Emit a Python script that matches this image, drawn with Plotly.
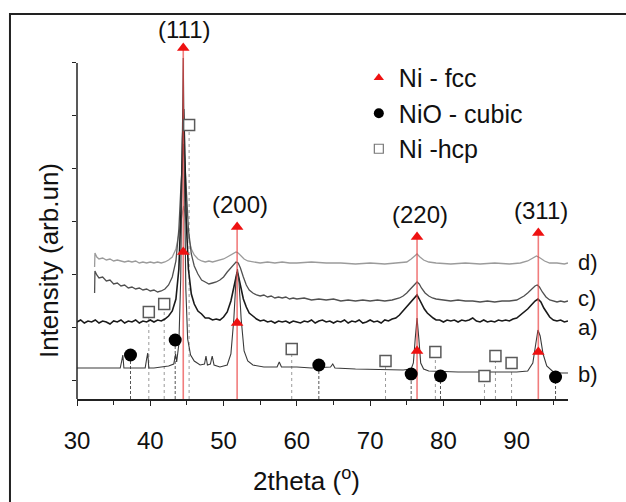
import plotly.graph_objects as go

# ---------------- data (intensity in arbitrary units) ----------------
b_x = [30.0, 31.0, 32.0, 33.0, 34.0, 35.0, 35.9, 36.1, 36.25, 36.4, 37.0, 38.0, 39.3, 39.5, 39.65, 39.8,
       40.5, 41.5, 42.5, 43.2, 43.45, 43.6, 43.9, 44.15, 44.35, 44.5, 44.65, 44.85, 45.1, 45.5, 46.0,
       46.8, 47.4, 47.6, 47.8, 48.2, 48.45, 48.7, 49.5, 50.5, 51.0, 51.4, 51.7, 51.9, 52.1, 52.4, 52.8,
       53.3, 54.0, 55.5, 57.3, 57.6, 57.9, 60.0, 62.0, 64.6, 64.9, 65.2, 68.0, 72.0, 74.5, 75.6, 75.9,
       76.15, 76.4, 76.65, 76.9, 77.3, 78.0, 82.0, 86.0, 90.0, 91.5, 92.2, 92.6, 92.9, 93.2, 93.6, 94.1,
       95.0, 96.0, 97.0]
b_y = [31, 31, 31.5, 31, 31, 31, 31, 38, 44, 31, 31, 31, 31, 40, 46, 31,
       31, 32, 33, 35, 45, 37, 55, 120, 230, 341, 230, 110, 60, 44, 38,
       34, 35, 43, 34, 35, 43, 34, 32, 34, 45, 80, 120, 130, 118, 80, 48,
       38, 34, 32, 32, 37, 32, 32, 31, 32, 35, 31, 30, 29, 29, 30, 36,
       60, 81, 60, 36, 30, 28, 27, 27, 27, 28, 36, 55, 69, 63, 45, 33,
       27, 26, 26]

a_x = [30.0, 30.5, 31.0, 31.5, 32.0, 32.5, 33.0, 33.5, 34.0, 34.5, 35.0, 35.5, 36.0, 36.5, 37.0, 37.5,
       38.0, 38.5, 39.0, 39.5, 40.0, 40.5, 41.0, 41.5, 42.0, 42.5, 43.0, 43.5, 43.9, 44.2, 44.4, 44.55,
       44.7, 44.9, 45.2, 45.6, 46.0, 46.5, 47.0, 47.5, 48.0, 48.5, 49.0, 49.5, 50.0, 50.5, 51.0, 51.4,
       51.7, 51.85, 52.0, 52.3, 52.7, 53.1, 53.5, 54.0, 54.5, 55.0, 55.5, 56.0, 56.5, 57.0, 57.5, 58.0,
       58.5, 59.0, 59.5, 60.0, 60.5, 61.0, 61.5, 62.0, 62.5, 63.0, 63.5, 64.0, 64.5, 65.0, 65.5, 66.0,
       66.5, 67.0, 67.5, 68.0, 68.5, 69.0, 69.5, 70.0, 70.5, 71.0, 71.5, 72.0, 72.5, 73.0, 73.5, 74.0,
       74.5, 75.0, 75.5, 76.0, 76.4, 76.7, 77.0, 77.4, 77.8, 78.2, 78.6, 79.0, 79.5, 80.0, 80.5, 81.0,
       81.5, 82.0, 82.5, 83.0, 83.5, 84.0, 84.5, 85.0, 85.5, 86.0, 86.5, 87.0, 87.5, 88.0, 88.5, 89.0,
       89.5, 90.0, 90.5, 91.0, 91.5, 92.0, 92.5, 92.9, 93.3, 93.7, 94.1, 94.5, 95.0, 95.5, 96.0, 96.5,
       97.0]
a_y = [77, 79, 76, 78, 77, 79, 76, 78, 77, 75, 78, 77, 79, 76, 78, 77,
       79, 76, 78, 77, 79, 77, 79, 78, 80, 83, 88, 100, 130, 190, 260, 290,
       250, 180, 130, 105, 95, 88, 85, 81, 81, 79, 80, 79, 82, 87, 98, 112,
       124, 127, 124, 114, 100, 92, 86, 83, 80, 78, 79, 77, 78, 76, 78, 77,
       78, 76, 78, 77, 76, 78, 77, 79, 76, 78, 79, 77, 78, 76, 78, 77,
       79, 76, 78, 77, 79, 76, 77, 79, 77, 78, 76, 79, 78, 80, 81, 84,
       88, 92, 97, 101, 104, 100, 95, 90, 86, 83, 81, 79, 79, 77, 79, 78,
       79, 77, 79, 78, 79, 81, 78, 77, 79, 77, 78, 77, 79, 78, 79, 78,
       80, 81, 84, 87, 90, 94, 98, 100, 97, 91, 86, 82, 79, 78, 79, 77,
       78]

c_x = [32.4, 32.45, 32.7, 33.0, 33.5, 34.0, 34.5, 35.0, 35.5, 36.0, 36.5, 37.0, 37.5, 38.0, 38.5, 39.0,
       39.5, 40.0, 40.5, 41.0, 41.5, 42.0, 42.5, 43.0, 43.5, 43.9, 44.2, 44.4, 44.55, 44.7, 44.9, 45.2,
       45.6, 46.0, 46.5, 47.0, 47.5, 48.0, 48.5, 49.0, 49.5, 50.0, 50.5, 51.0, 51.4, 51.7, 52.0, 52.3,
       52.7, 53.1, 53.5, 54.0, 54.5, 55.0, 55.5, 56.0, 56.5, 57.0, 57.5, 58.0, 58.5, 59.0, 59.5, 60.0,
       61.0, 62.0, 63.0, 64.0, 65.0, 66.0, 67.0, 68.0, 69.0, 70.0, 71.0, 72.0, 73.0, 74.0, 74.5, 75.0,
       75.5, 76.0, 76.4, 76.7, 77.0, 77.5, 78.0, 78.5, 79.0, 80.0, 81.0, 82.0, 83.0, 84.0, 85.0, 86.0,
       87.0, 88.0, 89.0, 90.0, 90.5, 91.0, 91.5, 92.0, 92.5, 92.8, 93.1, 93.5, 94.0, 94.5, 95.0, 95.5,
       96.0, 96.5, 97.0]
c_y = [106, 128, 124, 121, 122, 118, 119, 115, 116, 113, 114, 111, 112, 110, 111, 109,
       110, 108, 109, 107, 108, 110, 114, 122, 138, 170, 215, 245, 255, 240, 205, 170,
       145, 133, 125, 119, 117, 115, 116, 117, 119, 122, 127, 131, 135, 137, 136, 131,
       122, 114, 109, 106, 104, 103, 104, 102, 103, 101, 102, 101, 102, 100, 101, 100,
       101, 99, 100, 99, 100, 98, 99, 98, 99, 98, 99, 98, 99, 101, 103, 106,
       110, 114, 117, 115, 111, 106, 103, 101, 100, 99, 98, 99, 98, 98, 97, 98,
       97, 98, 98, 99, 101, 103, 106, 110, 113, 114, 112, 107, 102, 99, 98, 97,
       98, 97, 98]

d_x = [32.4, 32.45, 32.7, 33.0, 33.5, 34.0, 34.5, 35.0, 35.5, 36.0, 36.5, 37.0, 37.5, 38.0, 38.5, 39.0,
       39.5, 40.0, 40.5, 41.0, 41.5, 42.0, 42.5, 43.0, 43.5, 43.9, 44.2, 44.4, 44.55, 44.7, 44.9, 45.2,
       45.6, 46.0, 46.5, 47.0, 47.5, 48.0, 48.5, 49.0, 49.5, 50.0, 50.5, 51.0, 51.4, 51.7, 52.0, 52.4,
       52.8, 53.3, 54.0, 55.0, 56.0, 57.0, 58.0, 59.0, 60.0, 62.0, 64.0, 66.0, 68.0, 70.0, 72.0, 74.0,
       75.0, 75.6, 76.1, 76.4, 76.8, 77.3, 78.0, 79.0, 81.0, 83.0, 85.0, 87.0, 89.0, 90.5, 91.5, 92.2,
       92.7, 93.2, 93.8, 94.5, 95.5, 96.5, 97.0]
d_y = [132, 146, 142, 140, 141, 139, 140, 138, 139, 138, 137, 138, 137, 138, 136, 137,
       136, 137, 136, 137, 136, 137, 139, 142, 150, 165, 180, 190, 193, 188, 176, 162,
       150, 144, 140, 138, 137, 138, 137, 138, 139, 140, 142, 144, 146, 147, 146, 143,
       140, 138, 137, 136, 137, 136, 137, 136, 136, 137, 136, 136, 135, 136, 135, 136,
       137, 140, 143, 145, 142, 139, 137, 136, 135, 136, 135, 136, 135, 136, 138, 141,
       143, 141, 138, 136, 136, 135, 136]

# reference phases
fcc_pos = [44.5, 51.85, 76.4, 92.95]
fcc_top = [351, 172, 162, 166]
fcc_low = [147, 76, 48, 47]
fcc_hkl = ["(111)", "(200)", "(220)", "(311)"]

nio_pos = [37.3, 43.4, 63.0, 75.6, 79.6, 95.3]
nio_y = [44, 59, 34, 25, 23, 22]

hcp_pos = [39.8, 41.9, 45.3, 59.3, 72.1, 78.9, 85.6, 87.1, 89.3]
hcp_y = [87, 95, 274, 50, 38, 47, 23, 43, 36]

sample_labels = ["d)", "c)", "a)", "b)"]
sample_label_y = [137, 101, 72, 25]

legend_names = ["Ni - fcc", "NiO - cubic", "Ni -hcp"]

# ---------------- figure ----------------
FONT = "Liberation Sans, Arial, sans-serif"
Y_TOP = 379       # top of the plotting area (room for the (111) label)
Y_AXIS_END = 336  # where the drawn y-axis line stops
fig = go.Figure()


def stems(pos, top):
    xs, ys = [], []
    for p, t in zip(pos, top):
        xs += [p, p, None]
        ys += [0, t, None]
    return xs, ys


# stems behind
sx, sy = stems(hcp_pos, hcp_y)
fig.add_trace(go.Scatter(x=sx, y=sy, mode="lines", line=dict(color="#9a9a9a", width=1, dash="dot"),
                         showlegend=False, hoverinfo="skip"))
sx, sy = stems(nio_pos, nio_y)
fig.add_trace(go.Scatter(x=sx, y=sy, mode="lines", line=dict(color="#555555", width=1, dash="3px,2px"),
                         showlegend=False, hoverinfo="skip"))

# patterns
fig.add_trace(go.Scatter(x=d_x, y=d_y, mode="lines", line=dict(color="#9b9b9b", width=1.3), showlegend=False))
fig.add_trace(go.Scatter(x=c_x, y=c_y, mode="lines", line=dict(color="#505050", width=1.3), showlegend=False))
fig.add_trace(go.Scatter(x=a_x, y=a_y, mode="lines", line=dict(color="#1a1a1a", width=1.6), showlegend=False))
fig.add_trace(go.Scatter(x=b_x, y=b_y, mode="lines", line=dict(color="#3a3a3a", width=1.1), showlegend=False))

# fcc red stems (over the patterns)
sx, sy = stems(fcc_pos, fcc_top)
fig.add_trace(go.Scatter(x=sx, y=sy, mode="lines", line=dict(color="rgba(235,70,70,0.7)", width=1.6),
                         showlegend=False, hoverinfo="skip"))

# markers
fig.add_trace(go.Scatter(x=hcp_pos, y=hcp_y, mode="markers", cliponaxis=False, showlegend=False,
                         marker=dict(symbol="square", size=11, color="white",
                                     line=dict(color="#5a5a5a", width=1.5))))
fig.add_trace(go.Scatter(x=nio_pos, y=nio_y, mode="markers", cliponaxis=False, showlegend=False,
                         marker=dict(symbol="circle", size=13, color="black")))
fig.add_trace(go.Scatter(x=fcc_pos + fcc_pos, y=fcc_top + fcc_low, mode="markers", cliponaxis=False,
                         showlegend=False,
                         marker=dict(symbol="triangle-up", size=11, color="#ee1111", line=dict(width=0))))

# legend-only traces
fig.add_trace(go.Scatter(x=[None], y=[None], mode="markers", name=legend_names[0], legendgroup="g1",
                         marker=dict(symbol="triangle-up", size=9, color="#ee1111")))
fig.add_trace(go.Scatter(x=[None], y=[None], mode="markers", name=legend_names[1], legendgroup="g2",
                         marker=dict(symbol="circle", size=10, color="black")))
fig.add_trace(go.Scatter(x=[None], y=[None], mode="markers", name=legend_names[2], legendgroup="g3",
                         marker=dict(symbol="square", size=9, color="white", line=dict(color="#777777", width=1.2))))

annotations = []
for p, t, h in zip(fcc_pos, fcc_top, fcc_hkl):
    annotations.append(dict(x=p + (0.1 if h == "(111)" else 0.4), y=t, xref="x", yref="y", text=h,
                            showarrow=False, yanchor="bottom", yshift=(3 if h == "(111)" else 7),
                            font=dict(family=FONT, size=24, color="#111111")))
for lab, yy in zip(sample_labels, sample_label_y):
    annotations.append(dict(x=97.0, y=yy, xref="x", yref="y", text=lab, showarrow=False,
                            xanchor="left", xshift=8, font=dict(family=FONT, size=22, color="#111111")))
annotations.append(dict(x=-0.057, y=0.364, xref="paper", yref="paper", text="Intensity (arb.un)",
                        textangle=-90, showarrow=False, xanchor="center", yanchor="middle",
                        font=dict(family=FONT, size=26, color="#111111")))
annotations.append(dict(x=0.468, y=-0.2137, xref="paper", yref="paper", text="2theta (<sup>o</sup>)",
                        showarrow=False, xanchor="center", yanchor="middle",
                        font=dict(family=FONT, size=26, color="#111111")))

fig.update_layout(
    width=626, height=502,
    margin=dict(l=77, r=58, t=20, b=103),
    paper_bgcolor="white", plot_bgcolor="white",
    font=dict(family=FONT, color="#111111"),
    annotations=annotations,
    legend=dict(x=0.574, y=0.9077, xanchor="left", yanchor="top", bgcolor="rgba(0,0,0,0)",
                font=dict(family=FONT, size=25, color="#111111"), tracegroupgap=0),
    shapes=[
        dict(type="rect", xref="paper", yref="paper", x0=-0.1365, y0=-0.293, x1=1.2, y1=1.0158,
             line=dict(color="#222222", width=2), layer="below"),
        dict(type="line", xref="paper", yref="y", x0=0, x1=0, y0=0, y1=Y_AXIS_END,
             line=dict(color="#222222", width=1.5)),
    ],
)
fig.update_xaxes(range=[30, 97], showgrid=False, zeroline=False, showline=True, linecolor="#222222",
                 linewidth=1.5, ticks="outside", ticklen=5, tickwidth=1, tickcolor="#222222",
                 tick0=30, dtick=10, ticklabelstandoff=14,
                 tickfont=dict(family=FONT, size=24, color="#111111"),
                 minor=dict(ticks="outside", ticklen=4, dtick=5, tick0=35, tickcolor="#222222"))
fig.update_yaxes(range=[0, Y_TOP], showgrid=False, zeroline=False, showline=False,
                 ticks="outside", ticklen=4, tickwidth=1, tickcolor="#222222",
                 tick0=19, dtick=53, showticklabels=False)

fig.write_html("out.html")
